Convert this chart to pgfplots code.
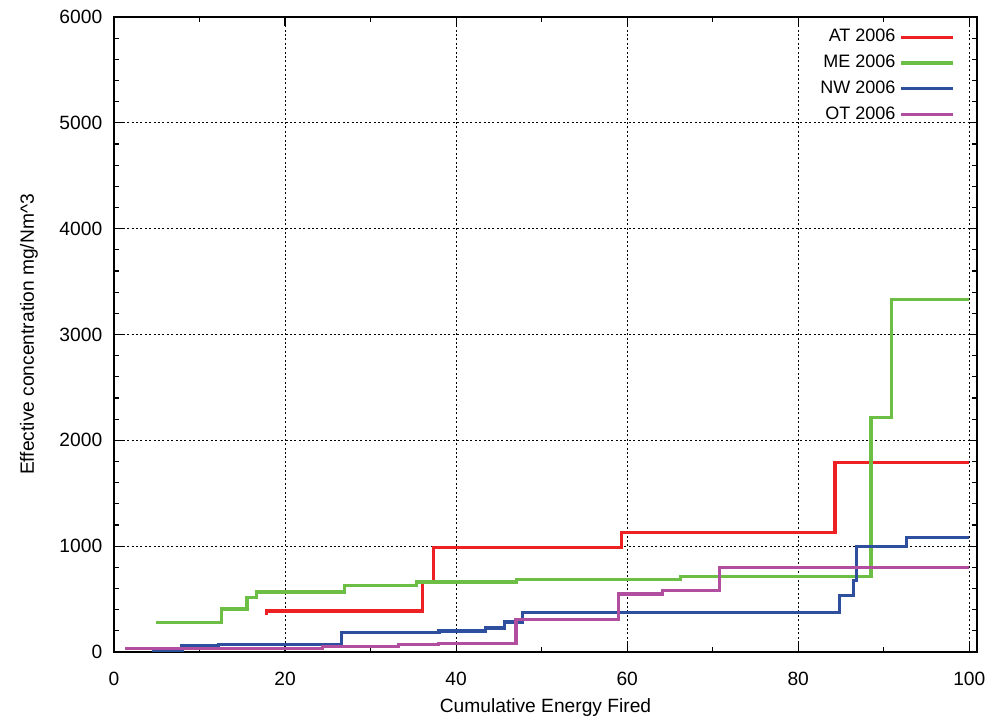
\documentclass[border=0pt]{standalone}
\usepackage{fontspec}
\setmainfont{Liberation Sans}
\usepackage{pgfplots}
\pgfplotsset{compat=1.18}
\usetikzlibrary{calc}
\definecolor{cAT}{RGB}{237,32,36}
\definecolor{cME}{RGB}{108,190,69}
\definecolor{cNW}{RGB}{46,78,158}
\definecolor{cOT}{RGB}{177,78,160}
\begin{document}
\fontsize{9.6}{11}\selectfont
\begin{tikzpicture}
\begin{axis}[
  width=431.5pt, height=317.5pt, scale only axis,
  xmin=0, xmax=100.9, ymin=0, ymax=6000,
  xtick={0,20,...,100}, minor x tick num=1,
  ytick={0,1000,...,6000}, minor y tick num=4,
  grid=major,
  major grid style={black, line width=0.5pt, dash pattern=on 1pt off 1.2pt},
  axis line style={line width=0.7pt},
  major tick length=4.5pt, minor tick length=2.5pt,
  every tick/.style={black, line width=0.6pt},
  tick align=inside,
  /pgf/number format/assume math mode=true,
  /pgf/number format/1000 sep={},
  scaled ticks=false,
  yticklabel style={xshift=-2.5pt},
  xticklabel style={yshift=-6.5pt},
  xlabel={Cumulative Energy Fired},
  ylabel={Effective concentration mg/Nm\textasciicircum 3},
  xlabel style={at={(axis description cs:0.5,0)}, anchor=center, yshift=-28pt},
  ylabel style={at={(axis description cs:0,0.5)}, anchor=center, yshift=42.5pt},
  legend style={draw=none, fill=none, at={(rel axis cs:1,1)}, anchor=north east,
    xshift=-8pt, yshift=-2pt, row sep=1.2pt, font=\fontsize{9}{10.5}\selectfont},
  legend plot pos=right,
  legend cell align=right,
  legend image code/.code={\draw[#1] (3pt,0pt) -- (29pt,0pt);},
  every axis plot/.append style={line width=1.55pt, const plot},
]
\addplot[cAT] coordinates {
 (17.8,350) (17.8,387) (36.05,661) (37.35,990) (59.3,1125) (84.3,1790) (100,1790)};
\addlegendentry{AT 2006}
\addplot[cME] coordinates {
 (4.9,277) (12.6,406) (15.55,517) (16.7,567) (26.9,627) (35.4,661) (47.1,684) (66.2,715) (88.5,2218) (90.9,3330) (100,3330)};
\addlegendentry{ME 2006}
\addplot[cNW] coordinates {
 (4.5,15) (7.95,58) (12.2,72) (26.6,180) (38.0,198) (43.4,227) (45.7,283) (47.8,375) (84.8,536) (86.5,674) (86.85,995) (92.7,1084) (100,1084)};
\addlegendentry{NW 2006}
\addplot[cOT] coordinates {
 (1.3,31) (24.4,50) (33.3,69) (37.9,84) (47.0,309) (59.0,548) (64.1,577) (70.8,797) (100,797)};
\addlegendentry{OT 2006}
\end{axis}
\pgfresetboundingbox
\path[use as bounding box] ($(current axis.south west)+(-57pt,-36pt)$) rectangle ($(current axis.north east)+(11pt,8.5pt)$);
\end{tikzpicture}
\end{document}
